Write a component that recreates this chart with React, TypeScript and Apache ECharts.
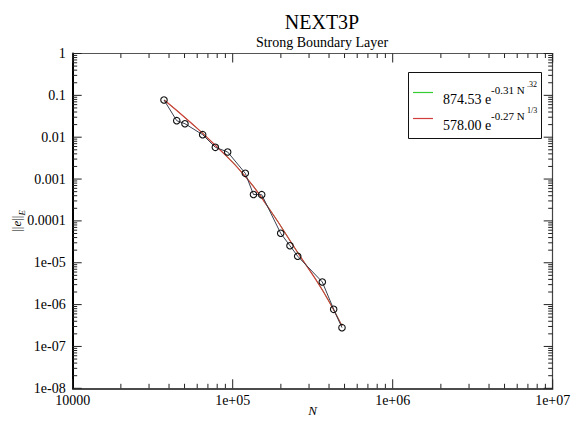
import React, { useEffect, useRef } from "react";
import * as echarts from "echarts";

const FONT = '"Liberation Serif", "DejaVu Serif", serif';

// measured data points (N, ||e||_E)
const dataN = [37200, 44700, 50300, 64900, 77900, 93000, 119900, 134900, 151800, 199500, 228000, 254800, 363100, 427600, 482000];
const dataErr = [0.0774, 0.0248, 0.021, 0.01148, 0.00574, 0.00443, 0.00137, 0.000427, 0.000423, 5.06e-5, 2.55e-5, 1.43e-5, 3.47e-6, 7.72e-7, 2.81e-7];

// fit curves
const fitN = [37320, 54100, 77520, 119400, 171100, 255900, 366700, 482000];
const fitGreen = [0.0774, 0.0231, 0.00651, 0.00118, 0.000182, 1.71e-5, 2.11e-6, 3.08e-7];
const fitRed = [0.0774, 0.0231, 0.00651, 0.00118, 0.000182, 1.71e-5, 2.11e-6, 3.08e-7];

const xTickLabels = ["10000", "1e+05", "1e+06", "1e+07"];
const yTickLabels = ["1e-08", "1e-07", "1e-06", "1e-05", "0.0001", "0.001", "0.01", "0.1", "1"];

const legendMain = ["874.53 e", "578.00 e"];
const legendSup = ["-0.31 N", "-0.27 N"];
const legendSupSup = [".32", "1/3"];

const GREEN = "#33cc33";
const RED = "#d23c3c";

export default function App() {
  const ref = useRef<HTMLDivElement>(null);
  useEffect(() => {
    document.body.style.margin = "0";
    const chart = echarts.init(ref.current!, undefined, { renderer: "svg" });
    const xLab = (v: number) => xTickLabels[Math.round(Math.log10(v)) - 4] ?? "";
    const yLab = (v: number) => yTickLabels[Math.round(Math.log10(v)) + 8] ?? "";
    const xBase = {
      type: "log" as const,
      min: 1e4,
      max: 1e7,
      interval: 1,
      splitLine: { show: false },
      axisTick: { show: false },
    };
    const yBase = {
      type: "log" as const,
      min: 1e-8,
      max: 1,
      interval: 1,
      splitLine: { show: false },
      axisTick: { show: false },
    };
    chart.setOption({
      animation: false,
      backgroundColor: "#fff",
      title: {
        text: "NEXT3P",
        subtext: "Strong Boundary Layer",
        left: 317,
        textAlign: "center",
        top: 7,
        itemGap: 3,
        textStyle: { fontFamily: FONT, fontSize: 20, fontWeight: "normal", color: "#000" },
        subtextStyle: { fontFamily: FONT, fontSize: 14, color: "#000" },
      },
      grid: { left: 72.7, right: 21.3, top: 53.5, bottom: 32.7, containLabel: false, outerBoundsMode: "none" },
      xAxis: [
        {
          ...xBase,
          position: "bottom",
          axisLine: { show: true, lineStyle: { color: "#111", width: 1.5 } },
          axisLabel: { formatter: xLab, fontFamily: FONT, fontSize: 14, color: "#000", margin: 5 },
          name: "N",
          nameLocation: "middle",
          nameGap: 16,
          nameMoveOverlap: false,
          nameTextStyle: { fontFamily: FONT, fontSize: 13, fontStyle: "italic", color: "#000" },
        },
        {
          ...xBase,
          position: "top",
          axisLine: { show: true, lineStyle: { color: "#555", width: 1.2 } },
          axisLabel: { show: false },
        },
      ],
      yAxis: [
        {
          ...yBase,
          position: "left",
          axisLine: { show: true, lineStyle: { color: "#000", width: 2 } },
          axisLabel: { formatter: yLab, fontFamily: FONT, fontSize: 14, color: "#000", margin: 7 },
          name: "{b|||}{i|e}{b|||}{s|E}",
          nameLocation: "middle",
          nameRotate: 90,
          nameGap: 46,
          nameMoveOverlap: false,
          nameTextStyle: {
            fontFamily: FONT,
            color: "#000",
            rich: {
              b: { fontFamily: FONT, fontSize: 13, lineHeight: 20, color: "#000" },
              i: { fontFamily: FONT, fontSize: 13, fontStyle: "italic", lineHeight: 20, color: "#000" },
              s: { fontFamily: FONT, fontSize: 9, fontStyle: "italic", lineHeight: 20, verticalAlign: "bottom", color: "#000" },
            },
          },
        },
        {
          ...yBase,
          position: "right",
          axisLine: { show: true, lineStyle: { color: "#444", width: 1.2 } },
          axisLabel: { show: false },
        },
      ],
      series: [
        {
          name: "fit1",
          type: "line",
          data: fitN.map((n, i) => [n, fitGreen[i]]),
          smooth: true,
          showSymbol: false,
          symbol: "none",
          lineStyle: { color: GREEN, width: 1 },
          z: 2,
        },
        {
          name: "fit2",
          type: "line",
          data: fitN.map((n, i) => [n, fitRed[i]]),
          smooth: true,
          showSymbol: false,
          symbol: "none",
          lineStyle: { color: RED, width: 1.2 },
          z: 3,
        },
        {
          name: "data",
          type: "line",
          data: dataN.map((n, i) => [n, dataErr[i]]),
          symbol: "circle",
          symbolSize: 6.5,
          lineStyle: { color: "#3c4050", width: 1 },
          itemStyle: { color: "rgba(255,255,255,0)", borderColor: "#111", borderWidth: 1.1 },
          z: 4,
        },
      ],
    });

    // ticks (major at decades, minor at 2..9), all pointing inward, placed through the axes' scales
    const g: any[] = [];
    const px = (x: number, y: number) => chart.convertToPixel({ gridIndex: 0 }, [x, y]) as number[];
    const lb = px(1e4, 1e-8);
    const rt = px(1e7, 1);
    const left = lb[0], bottom = lb[1], right = rt[0], top = rt[1];
    const addLine = (x1: number, y1: number, x2: number, y2: number) =>
      g.push({ type: "line", shape: { x1, y1, x2, y2 }, style: { stroke: "#222", lineWidth: 1 }, z: 5 });
    for (let d = 4; d <= 7; d++) {
      for (let m = 1; m <= 9; m++) {
        if (d === 7 && m > 1) break;
        const len = m === 1 ? 9 : 4.5;
        const x = px(m * Math.pow(10, d), 1e-8)[0];
        addLine(x, bottom, x, bottom - len);
        addLine(x, top, x, top + len);
      }
    }
    for (let d = -8; d <= 0; d++) {
      for (let m = 1; m <= 9; m++) {
        if (d === 0 && m > 1) break;
        const len = m === 1 ? 9 : 4.5;
        const y = px(1e4, m * Math.pow(10, d))[1];
        addLine(left, y, left + len, y);
        addLine(right, y, right - len, y);
      }
    }
    // legend box
    const colors = [GREEN, RED];
    g.push({
      type: "rect",
      shape: { x: 408.5, y: 72.5, width: 133, height: 66 },
      style: { fill: "#fff", stroke: "#111", lineWidth: 1 },
      z: 10,
    });
    for (let i = 0; i < 2; i++) {
      const ly = 92.5 + i * 26;
      g.push({ type: "line", shape: { x1: 413, y1: ly, x2: 433, y2: ly }, style: { stroke: colors[i], lineWidth: 1.2 }, z: 11 });
      g.push({
        type: "text", x: 443, y: ly + 6.5, z: 11,
        style: { text: legendMain[i], font: `14px ${FONT}`, fill: "#000", verticalAlign: "middle" },
      });
      g.push({
        type: "text", x: 491, y: ly - 3, z: 11,
        style: { text: legendSup[i], font: `11px ${FONT}`, fill: "#000", verticalAlign: "middle" },
      });
      g.push({
        type: "text", x: 527, y: ly - 8, z: 11,
        style: { text: legendSupSup[i], font: `8px ${FONT}`, fill: "#000", verticalAlign: "middle" },
      });
    }
    chart.setOption({ graphic: g });
    return () => chart.dispose();
  }, []);
  return (
    <div
      ref={ref}
      style={{ position: "absolute", left: 0, top: 0, width: 574, height: 421 }}
    />
  );
}
